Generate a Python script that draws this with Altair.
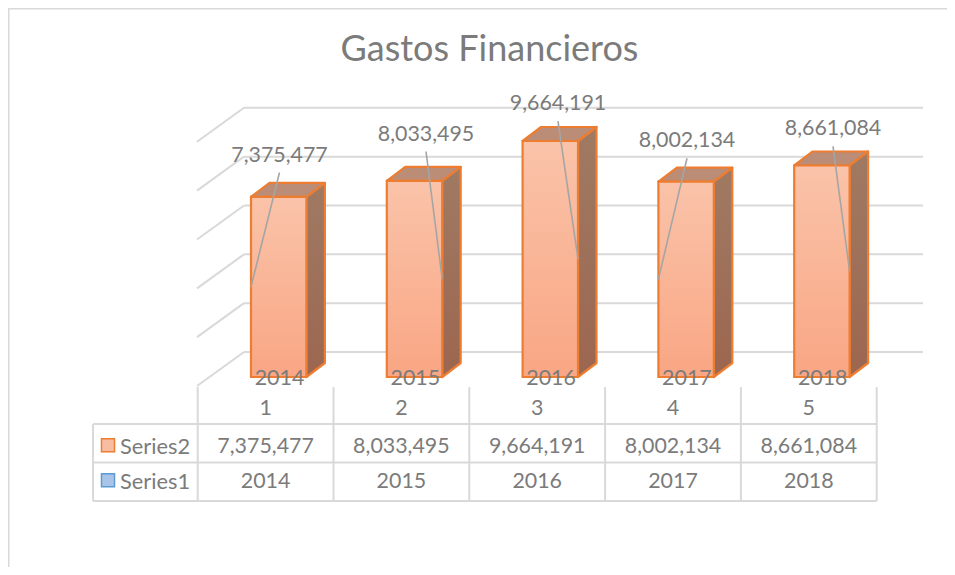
import altair as alt
import pandas as pd

# ---- data ----
categories = [1, 2, 3, 4, 5]
years = [2014, 2015, 2016, 2017, 2018]
series2 = [7375477, 8033495, 9664191, 8002134, 8661084]
grid_values = [0, 2000000, 4000000, 6000000, 8000000, 10000000]
series_names = ["Series2", "Series1"]
title_text = "Gastos Financieros"

# ---- layout: how data units map to the picture ----
W, H = 939, 559
ORIGIN = 8
CELL_PX = 135.8
CELL1_CENTRE = 265.6
BASE_PX = 377
PX_PER_VALUE = 24.42 / 1e6
ROW_PX = 38.5
ROW0_PX = 385.5


def cx(px):
    return 1 + (px - CELL1_CENTRE) / CELL_PX


def vy(py):
    return (BASE_PX - py) / PX_PER_VALUE


def ry(py):
    return (py - ROW0_PX) / ROW_PX


X_SCALE = alt.Scale(domain=[cx(ORIGIN), cx(ORIGIN + W)], range=[0, W], nice=False, zero=False)
Y_SCALE = alt.Scale(domain=[vy(ORIGIN + H), vy(ORIGIN)], range=[H, 0], nice=False, zero=False)
R_SCALE = alt.Scale(domain=[ry(ORIGIN), ry(ORIGIN + H)], range=[0, H], nice=False, zero=False)

BAR_W = 55.4 / CELL_PX
BAR_SHIFT = 251 - CELL1_CENTRE
DX = 18.5 / CELL_PX
DZ = 14 / PX_PER_VALUE
WALL_BACK = 25 / PX_PER_VALUE
WALL_FRONT = -9 / PX_PER_VALUE

TEXT = "#7b7b7b"
GRID = "#d9d9d9"
ORANGE = "#ed7d31"
FONT = "Lato"
TEXT_SIZE = 21.4

label_dx = [13.9, 24.6, 20.8, 14.0, 24.2]
label_py = [155.5, 134.5, 104.2, 141.2, 129.3]
leader_side = [0, 1, 1, 0, 1]

X = alt.X("x:Q", scale=X_SCALE, axis=None, title=None)
Y = alt.Y("y:Q", scale=Y_SCALE, axis=None, title=None, stack=None)
R = alt.Y("r:Q", scale=R_SCALE, axis=None, title=None)


def left(c):
    return c + BAR_SHIFT / CELL_PX


def gradient(top, bottom):
    return alt.LinearGradient(
        gradient="linear", x1=0, y1=0, x2=0, y2=1,
        stops=[alt.GradientStop(color=top, offset=0), alt.GradientStop(color=bottom, offset=1)],
    )


# frame
frame = pd.DataFrame({"x": [cx(ORIGIN)], "x2": [cx(ORIGIN + W)], "y": [vy(ORIGIN + 0.5)]})
frame_top = alt.Chart(frame).mark_rule(color=GRID, strokeWidth=2).encode(x=X, x2="x2:Q", y=Y)
frame_v = pd.DataFrame({"x": [cx(ORIGIN + 0.5)], "y": [vy(ORIGIN)], "y2": [vy(ORIGIN + H)]})
frame_left = alt.Chart(frame_v).mark_rule(color=GRID, strokeWidth=2).encode(x=X, y=Y, y2="y2:Q")

# wall gridlines and their floor-side diagonals
wall = pd.DataFrame({"x": cx(244), "x2": cx(923), "y": [v + WALL_BACK for v in grid_values]})
wall_lines = alt.Chart(wall).mark_rule(color=GRID, strokeWidth=2).encode(x=X, x2="x2:Q", y=Y)
diag = pd.DataFrame({
    "x": cx(197), "x2": cx(244),
    "y": [v + WALL_FRONT for v in grid_values],
    "y2": [v + WALL_BACK for v in grid_values],
})
diag_lines = alt.Chart(diag).mark_rule(color=GRID, strokeWidth=2).encode(x=X, x2="x2:Q", y=Y, y2="y2:Q")

# bars: side, top, front faces
side_rows, top_rows, front_rows = [], [], []
for c, v in zip(categories, series2):
    l = left(c)
    r = l + BAR_W
    front_rows.append({"x": l, "x2": r, "y": v, "y2": 0})
    side_rows.append({"cat": c, "x": r, "y": v, "y2": 0})
    side_rows.append({"cat": c, "x": r + DX, "y": v + DZ, "y2": DZ})
    top_rows.append({"cat": c, "y": v, "x": l, "x2": r})
    top_rows.append({"cat": c, "y": v + DZ, "x": l + DX, "x2": r + DX})

side = alt.Chart(pd.DataFrame(side_rows)).mark_area(
    color=gradient("#a07a63", "#9c6650"), stroke=ORANGE, strokeWidth=2.2, strokeJoin="round"
).encode(x=X, y=Y, y2="y2:Q", detail="cat:N")
top = alt.Chart(pd.DataFrame(top_rows)).mark_area(
    orient="horizontal", color="#bb8c76", stroke=ORANGE, strokeWidth=2.2, strokeJoin="round"
).encode(x=alt.X("x:Q", scale=X_SCALE, axis=None, title=None, stack=None), x2="x2:Q",
         y=alt.Y("y:Q", scale=Y_SCALE, axis=None, title=None), detail="cat:N")
front = alt.Chart(pd.DataFrame(front_rows)).mark_rect(
    color=gradient("#fac3a9", "#f9a684"), stroke=ORANGE, strokeWidth=2.2
).encode(x=X, x2="x2:Q", y=Y, y2="y2:Q")

# leader lines and data labels
lead_rows, label_rows = [], []
for c, v, dx, py, s in zip(categories, series2, label_dx, label_py, leader_side):
    lx = c + dx / CELL_PX
    edge = left(c) + (BAR_W if s else 0)
    lead_rows.append({"x": lx, "y": vy(py + 17), "x2": edge, "y2": v / 2})
    label_rows.append({"x": lx, "y": vy(py), "t": f"{v:,}"})
leaders = alt.Chart(pd.DataFrame(lead_rows)).mark_rule(color="#a5a5a5", strokeWidth=1.6).encode(
    x=X, x2="x2:Q", y=Y, y2="y2:Q")
labels = alt.Chart(pd.DataFrame(label_rows)).mark_text(
    font=FONT, fontSize=TEXT_SIZE, color=TEXT, baseline="middle", align="center"
).encode(x=X, y=Y, text="t:N")

# year labels over the bar bases
year_df = pd.DataFrame({"x": [c + 13.9 / CELL_PX for c in categories], "y": vy(379), "t": [str(y) for y in years]})
year_labels = alt.Chart(year_df).mark_text(
    font=FONT, fontSize=TEXT_SIZE, color=TEXT, baseline="middle", align="center"
).encode(x=X, y=Y, text="t:N")

main = alt.layer(frame_top, frame_left, wall_lines, diag_lines, side, top, front, leaders, year_labels, labels)

# data table
col_edges = [c - 0.5 for c in categories] + [categories[-1] + 0.5]
LEFT_EDGE = cx(93)
h_lines = pd.DataFrame({"x": LEFT_EDGE, "x2": col_edges[-1], "r": [1, 2, 3]})
t_h = alt.Chart(h_lines).mark_rule(color=GRID, strokeWidth=2).encode(x=X, x2="x2:Q", y=R)
v_lines = pd.DataFrame({"x": col_edges, "r": 0.04, "r2": 3})
t_v = alt.Chart(v_lines).mark_rule(color=GRID, strokeWidth=2).encode(x=X, y=R, y2="r2:Q")
v_left = pd.DataFrame({"x": [LEFT_EDGE], "r": [1], "r2": [3]})
t_vl = alt.Chart(v_left).mark_rule(color=GRID, strokeWidth=2).encode(x=X, y=R, y2="r2:Q")

ROW_TEXT = [0.61, 1.6, 2.51]
table_rows = []
for c, y, v in zip(categories, years, series2):
    table_rows.append({"x": c, "r": ROW_TEXT[0], "t": str(c)})
    table_rows.append({"x": c, "r": ROW_TEXT[1], "t": f"{v:,}"})
    table_rows.append({"x": c, "r": ROW_TEXT[2], "t": str(y)})
t_text = alt.Chart(pd.DataFrame(table_rows)).mark_text(
    font=FONT, fontSize=TEXT_SIZE, color=TEXT, baseline="middle", align="center"
).encode(x=X, y=R, text="t:N")

name_df = pd.DataFrame({"x": cx(120), "r": ROW_TEXT[1:], "t": series_names})
t_names = alt.Chart(name_df).mark_text(
    font=FONT, fontSize=TEXT_SIZE + 0.4, color=TEXT, baseline="middle", align="left"
).encode(x=X, y=R, text="t:N")

key_df = pd.DataFrame({"x": cx(108), "r": [1.55, 2.46], "s": series_names})
t_keys = alt.Chart(key_df).mark_point(shape="square", filled=True, size=170, strokeWidth=1.5, opacity=1).encode(
    x=X, y=R,
    fill=alt.Fill("s:N", scale=alt.Scale(domain=series_names, range=["#f6bda3", "#a9c4e6"]), legend=None),
    stroke=alt.Stroke("s:N", scale=alt.Scale(domain=series_names, range=[ORANGE, "#5b9bd5"]), legend=None),
)

table = alt.layer(t_v, t_vl, t_h, t_text, t_names, t_keys)

chart = alt.layer(main, table).resolve_scale(y="independent", fill="independent", stroke="independent").properties(
    width=W, height=H, padding=0,
    autosize=alt.AutoSizeParams(type="none"),
    background="white",
    title=alt.TitleParams(
        title_text, font=FONT, fontSize=36, fontWeight="normal", color=TEXT,
        anchor="middle", dx=12, offset=-62,
    ),
).configure_view(stroke=None)

chart.save("out.html", embed_options={"renderer": "svg", "actions": False})
